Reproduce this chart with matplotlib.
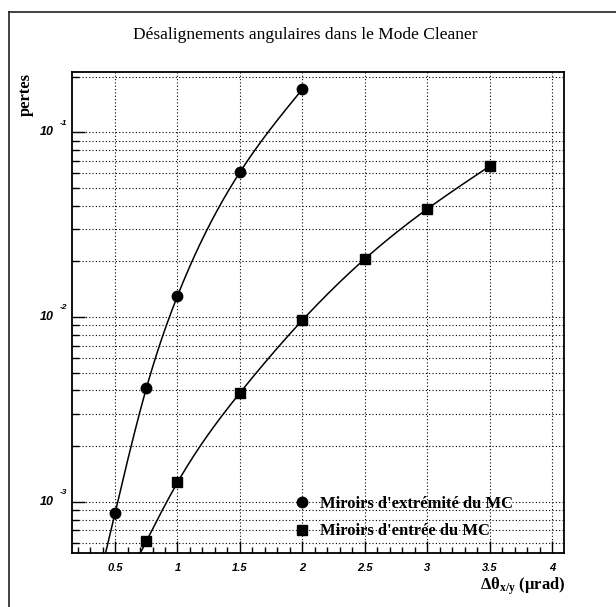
import numpy as np
import matplotlib
matplotlib.use("Agg")
import matplotlib.pyplot as plt
from matplotlib.lines import Line2D
from matplotlib.ticker import MultipleLocator, LogLocator, NullFormatter

plt.rcParams['mathtext.fontset'] = 'custom'
plt.rcParams['mathtext.rm'] = 'Liberation Serif:bold'
plt.rcParams['mathtext.bf'] = 'Liberation Serif:bold'
plt.rcParams['mathtext.it'] = 'Liberation Serif:bold:italic'

# Losses versus angular misalignment (µrad)
x_extremite = [0.5, 0.75, 1.0, 1.5, 2.0]
pertes_extremite = [8.7e-4, 4.1e-3, 1.30e-2, 6.08e-2, 0.171]

x_entree = [0.75, 1.0, 1.5, 2.0, 2.5, 3.0, 3.5]
pertes_entree = [6.1e-4, 1.27e-3, 3.88e-3, 9.6e-3, 2.06e-2, 3.84e-2, 6.55e-2]

labels = ["Miroirs d'extrémité du MC", "Miroirs d'entrée du MC"]
x_ticks = [0.5, 1, 1.5, 2, 2.5, 3, 3.5, 4]
x_tick_labels = ["0.5", "1", "1.5", "2", "2.5", "3", "3.5", "4"]
y_ticks = [1e-3, 1e-2, 1e-1]
y_exponents = ["-3", "-2", "-1"]


def smooth_curve(x, y, n=400, extend=0.2):
    """Natural cubic spline through (x, log10 y), extended linearly below x[0]."""
    x = np.asarray(x, float)
    ly = np.log10(np.asarray(y, float))
    k = len(x)
    h = np.diff(x)
    A = np.zeros((k, k))
    b = np.zeros(k)
    A[0, 0] = A[-1, -1] = 1.0
    for i in range(1, k - 1):
        A[i, i - 1] = h[i - 1]
        A[i, i] = 2 * (h[i - 1] + h[i])
        A[i, i + 1] = h[i]
        b[i] = 3 * ((ly[i + 1] - ly[i]) / h[i] - (ly[i] - ly[i - 1]) / h[i - 1])
    c = np.linalg.solve(A, b)
    bb = (ly[1:] - ly[:-1]) / h - h * (2 * c[:-1] + c[1:]) / 3
    d = (c[1:] - c[:-1]) / (3 * h)
    xs = np.linspace(x[0], x[-1], n)
    idx = np.clip(np.searchsorted(x, xs, side='right') - 1, 0, k - 2)
    t = xs - x[idx]
    ys = ly[idx] + bb[idx] * t + c[idx] * t ** 2 + d[idx] * t ** 3
    xe = np.linspace(x[0] - extend, x[0], 20)
    ye = ly[0] + bb[0] * (xe - x[0])
    xs = np.concatenate([xe, xs])
    ys = np.concatenate([ye, ys])
    return xs, 10 ** ys


W, H = 616, 607
fig = plt.figure(figsize=(W / 100, H / 100), dpi=100)
fig.patch.set_facecolor('white')

# outer pad frame (left and top edges)
fig.add_artist(Line2D([9 / W, 9 / W], [0, 1 - 12 / H], transform=fig.transFigure,
                      color='#222222', lw=1.2))
fig.add_artist(Line2D([9 / W, 1], [1 - 12 / H, 1 - 12 / H], transform=fig.transFigure,
                      color='#222222', lw=1.2))

ax = fig.add_axes([72 / W, 1 - 553 / H, (564 - 72) / W, (553 - 72) / H])
ax.set_yscale('log')
ax.set_xlim(0.155, 4.096)
ax.set_ylim(5.27e-4, 0.2121)

dot = (0, (1, 2))
ax.grid(True, which='major', axis='x', color='black', linestyle=dot, lw=0.8)
ax.grid(True, which='both', axis='y', color='black', linestyle=dot, lw=0.8)
ax.set_axisbelow(True)

for xs, ys in [(x_extremite, pertes_extremite), (x_entree, pertes_entree)]:
    cx, cy = smooth_curve(xs, ys)
    ax.plot(cx, cy, color='black', lw=1.1, zorder=3)

h1, = ax.plot(x_extremite, pertes_extremite, 'o', color='black', ms=7.5, zorder=4,
              label=labels[0])
h2, = ax.plot(x_entree, pertes_entree, 's', color='black', ms=7, zorder=4,
              label=labels[1])

ax.legend(handles=[h1, h2], loc='lower left', bbox_to_anchor=(0.4506, 0.0283),
          frameon=False, handlelength=1.0, handletextpad=0.58, borderpad=0,
          borderaxespad=0, labelspacing=0.69,
          prop={'family': 'Liberation Serif', 'weight': 'bold', 'size': 12})

# ticks
ax.xaxis.set_minor_locator(MultipleLocator(0.1))
ax.set_xticks(x_ticks)
ax.set_xticklabels(x_tick_labels, fontfamily='Liberation Sans', fontstyle='italic',
                   fontweight='bold', fontsize=8)
ax.tick_params(axis='x', which='major', direction='in', length=9, width=1, pad=7,
               top=False)
ax.tick_params(axis='x', which='minor', direction='in', length=4, width=1, top=False)

ax.set_yticks(y_ticks)
ax.yaxis.set_minor_locator(LogLocator(base=10, subs=np.arange(2, 10)))
ax.yaxis.set_minor_formatter(NullFormatter())
ax.set_yticklabels([])
ax.tick_params(axis='y', which='major', direction='in', length=9, width=1, right=False)
ax.tick_params(axis='y', which='minor', direction='in', length=5, width=1, right=False)

for v, e in zip(y_ticks, y_exponents):
    ax.annotate("10", xy=(0, v), xycoords=('axes fraction', 'data'),
                xytext=(-18, 0), textcoords='offset points', ha='center', va='center',
                fontfamily='Liberation Sans', fontstyle='italic', fontweight='bold',
                fontsize=9)
    ax.annotate(e, xy=(0, v), xycoords=('axes fraction', 'data'),
                xytext=(-6, 6.5), textcoords='offset points', ha='center', va='center',
                fontfamily='Liberation Sans', fontstyle='italic', fontweight='bold',
                fontsize=6)

for s in ax.spines.values():
    s.set_linewidth(1.3)

fig.text(305 / W, 1 - 35 / H, "Désalignements angulaires dans le Mode Cleaner",
         ha='center', va='center', family='Liberation Serif', fontsize=12.5)
fig.text(26 / W, 1 - 95 / H, "pertes", rotation=90, ha='center', va='center',
         family='Liberation Serif', fontweight='bold', fontsize=12)
fig.text(565 / W, 1 - 586 / H, r"Δθ$_{\mathbf{x/y}}$ (μrad)", ha='right', va='center',
         family='Liberation Serif', fontweight='bold', fontsize=12)

fig.savefig("out.png", dpi=100, facecolor='white')
